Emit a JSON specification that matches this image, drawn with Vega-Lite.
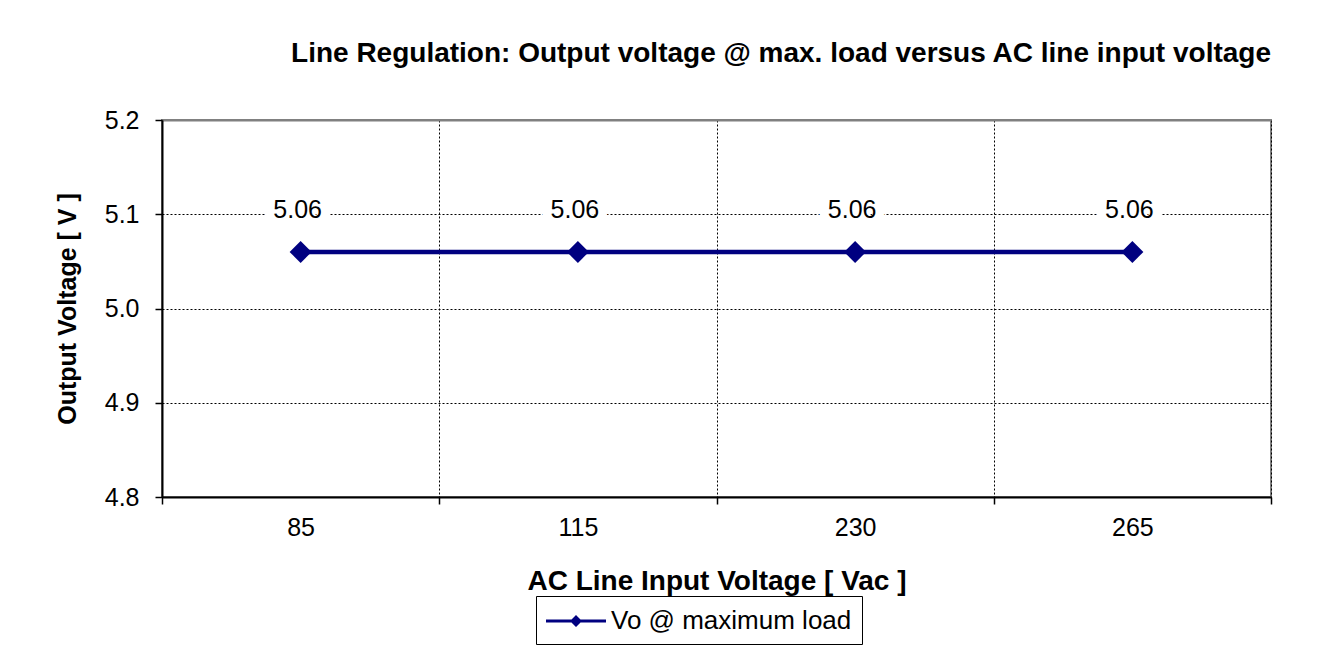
{
  "$schema": "https://vega.github.io/schema/vega-lite/v6.json",
  "autosize": {"type": "none"},
  "width": 1109,
  "height": 377,
  "padding": {"left": 162, "top": 120, "right": 61, "bottom": 173},
  "background": "white",
  "title": {
    "text": "Line Regulation: Output voltage @ max. load versus AC line input voltage",
    "anchor": "end",
    "frame": "group",
    "offset": 40,
    "font": "Liberation Sans",
    "fontSize": 28,
    "fontWeight": "bold",
    "color": "black"
  },
  "data": {
    "values": [
      {"vac": "85", "vo": 5.06, "label": "5.06", "series": "Vo @ maximum load"},
      {"vac": "115", "vo": 5.06, "label": "5.06", "series": "Vo @ maximum load"},
      {"vac": "230", "vo": 5.06, "label": "5.06", "series": "Vo @ maximum load"},
      {"vac": "265", "vo": 5.06, "label": "5.06", "series": "Vo @ maximum load"}
    ]
  },
  "encoding": {
    "x": {
      "field": "vac",
      "type": "ordinal",
      "sort": null,
      "scale": {"paddingInner": 0, "paddingOuter": 0},
      "axis": {
        "title": "AC Line Input Voltage [ Vac ]",
        "titleFontSize": 28,
        "labelAngle": 0,
        "tickBand": "extent",
        "tickSize": 7,
        "labelPadding": 11,
        "titlePadding": 27
      }
    },
    "y": {
      "field": "vo",
      "type": "quantitative",
      "scale": {"domain": [4.8, 5.2], "nice": false, "zero": false},
      "axis": {
        "title": "Output Voltage [ V ]",
        "titleFontSize": 25,
        "values": [4.8, 4.9, 5.0, 5.1, 5.2],
        "format": ".1f",
        "tickSize": 7,
        "labelPadding": 16,
        "titlePadding": 24,
        "gridColor": {"condition": {"test": "datum.value >= 5.2", "value": "#808080"}, "value": "black"},
        "gridDash": {"condition": {"test": "datum.value >= 5.2", "value": []}, "value": [2, 2]},
        "gridWidth": {"condition": {"test": "datum.value >= 5.2", "value": 2}, "value": 1}
      }
    }
  },
  "layer": [
    {
      "mark": {"type": "line", "color": "#000080", "strokeWidth": 4.5}
    },
    {
      "mark": {"type": "point", "shape": "diamond", "filled": true, "size": 484, "opacity": 1},
      "encoding": {
        "color": {
          "field": "series",
          "type": "nominal",
          "scale": {"range": ["#000080"]},
          "legend": {
            "orient": "none",
            "legendX": 374,
            "legendY": 476,
            "title": null,
            "symbolType": "M-1,-0.1L3,-0.1L3,0.1L-1,0.1Z M1,-0.4L1.4,0L1,0.4L0.6,0Z",
            "symbolSize": 900,
            "symbolStrokeWidth": 0,
            "symbolFillColor": "#000080",
            "symbolOpacity": 1,
            "labelFont": "Liberation Sans",
            "labelFontSize": 26,
            "labelColor": "black",
            "labelOffset": 35,
            "labelLimit": 600,
            "strokeColor": "black",
            "padding": 10,
            "fillColor": "white"
          }
        }
      }
    },
    {
      "mark": {"type": "text", "dy": -34, "dx": -3, "baseline": "alphabetic", "font": "Liberation Sans", "fontSize": 25, "fill": "white", "stroke": "white", "strokeWidth": 18, "strokeJoin": "miter"},
      "encoding": {"text": {"field": "label"}}
    },
    {
      "mark": {"type": "text", "dy": -34, "dx": -3, "baseline": "alphabetic", "font": "Liberation Sans", "fontSize": 25, "color": "black"},
      "encoding": {"text": {"field": "label"}}
    }
  ],
  "config": {
    "view": {"stroke": "#808080", "strokeWidth": 2},
    "axis": {
      "labelFont": "Liberation Sans",
      "labelFontSize": 25,
      "labelColor": "black",
      "titleFont": "Liberation Sans",
      "titleFontWeight": "bold",
      "titleColor": "black",
      "domainColor": "black",
      "domainWidth": 2,
      "tickColor": "black",
      "tickWidth": 1.5,
      "grid": true,
      "gridColor": "black",
      "gridDash": [2, 2],
      "gridWidth": 1
    }
  }
}
